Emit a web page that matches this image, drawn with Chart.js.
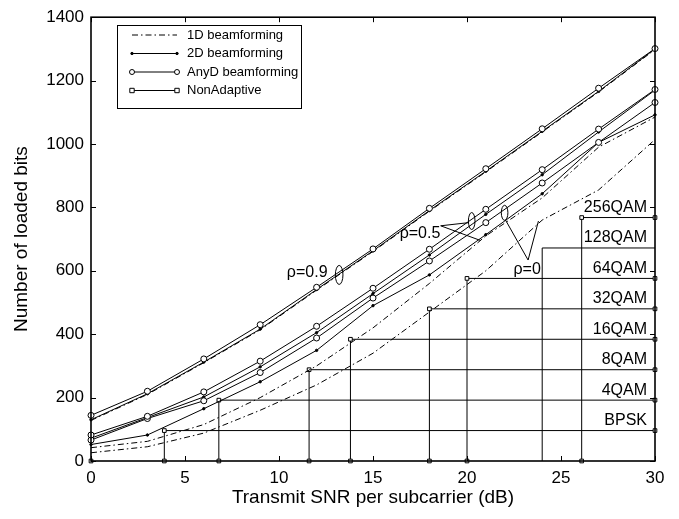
<!DOCTYPE html>
<html lang="en">
<head>
  <meta charset="UTF-8">
  <title>Number of loaded bits vs transmit SNR</title>
  <script src="https://cdn.jsdelivr.net/npm/chart.js"></script>
  <style>
    html, body { margin: 0; padding: 0; background: #fff; }
    .container { width: 679px; height: 519px; }
  </style>
</head>
<body>
  <div class="container">
    <canvas id="bitsChart" width="679" height="519"></canvas>
  </div>

  <script>
    // SNR grid (dB) for the beamforming curves
    const snr = [0, 3, 6, 9, 12, 15, 18, 21, 24, 27, 30];

    // rho = 0.9
    const anyD09 = [144, 220, 322, 430, 548, 669, 797, 922, 1048, 1176, 1301];
    const twoD09 = [130, 212, 312, 416, 541, 663, 790, 914, 1040, 1166, 1300];
    const oneD09 = [128, 210, 310, 414, 539, 661, 788, 912, 1038, 1164, 1298];
    // rho = 0.5
    const anyD05 = [82, 141, 218, 315, 425, 545, 668, 794, 919, 1047, 1172];
    const twoD05 = [72, 137, 202, 297, 405, 528, 650, 778, 903, 1038, 1170];
    const oneD05 = [42, 62, 115, 200, 300, 420, 560, 710, 830, 990, 1085];
    // rho = 0
    const anyD00 = [66, 134, 190, 279, 388, 514, 631, 752, 877, 1005, 1131];
    const twoD00 = [52, 82, 165, 250, 349, 490, 587, 714, 843, 1005, 1092];
    const oneD00 = [26, 45, 88, 160, 240, 340, 470, 600, 760, 855, 1014];

    // NonAdaptive: switching SNR and bits per modulation
    const modNames = ['BPSK', '4QAM', '8QAM', '16QAM', '32QAM', '64QAM', '128QAM', '256QAM'];
    const modBits = [96, 192, 288, 384, 480, 576, 672, 768];
    const modSnr = [3.9, 6.8, 11.6, 13.8, 18, 20, 24, 26.1];

    const xTickStep = 5;
    const yTickStep = 200;

    const FONT = "'Liberation Sans', Arial, Helvetica, sans-serif";
    Chart.defaults.font.family = FONT;
    Chart.defaults.color = '#000';

    const pts = arr => snr.map((x, i) => ({ x: x, y: arr[i] }));

    const styles = {
      oneD: { borderDash: [6, 3, 1.5, 3], pointRadius: 0 },
      twoD: { pointRadius: 1.2, pointBackgroundColor: '#000' },
      anyD: { pointRadius: 3, pointBackgroundColor: '#fff' },
      nonA: { pointStyle: 'rect', pointRadius: 2.6, pointBackgroundColor: '#fff' }
    };

    function line(label, arr, kind) {
      return Object.assign({
        label: label,
        data: pts(arr),
        borderColor: '#000',
        borderWidth: 1,
        pointBorderColor: '#000',
        pointBorderWidth: 1,
        tension: 0,
        fill: false,
        clip: false
      }, styles[kind]);
    }

    const datasets = [
      line('AnyD rho=0.9', anyD09, 'anyD'),
      line('AnyD rho=0.5', anyD05, 'anyD'),
      line('AnyD rho=0', anyD00, 'anyD'),
      line('2D rho=0.9', twoD09, 'twoD'),
      line('2D rho=0.5', twoD05, 'twoD'),
      line('2D rho=0', twoD00, 'twoD'),
      line('1D rho=0.5', oneD05, 'oneD'),
      line('1D rho=0', oneD00, 'oneD'),
      line('1D rho=0.9', oneD09, 'oneD')
    ];

    // staircase for the fixed modulations
    modNames.forEach((name, i) => {
      const ds = {
        label: 'NonAdaptive ' + name,
        data: [
          { x: modSnr[i], y: 0 },
          { x: modSnr[i], y: modBits[i] },
          { x: 30, y: modBits[i] }
        ],
        borderColor: '#000',
        borderWidth: 1,
        pointBorderColor: '#000',
        pointBorderWidth: 1,
        clip: false
      };
      Object.assign(ds, styles.nonA);
      if (name === '128QAM') ds.pointRadius = 0;
      datasets.push(ds);
    });
    datasets.push(Object.assign({
      label: 'NonAdaptive origin',
      data: [{ x: 0, y: 0 }],
      pointBorderColor: '#000',
      borderColor: '#000',
      clip: false
    }, styles.nonA));

    // rho annotations (text position, ellipse, pointer lines), in data units
    const rhoNotes = [
      { text: '\u03C1=0.9', tx: 11.5, ty: 594, ex: 13.2, ey: 587, rx: 3.8, ry: 9.5, from: null, to: [] },
      { text: '\u03C1=0.5', tx: 17.5, ty: 716, ex: 20.25, ey: 757, rx: 3.3, ry: 8.5,
        from: [18.6, 742], to: [[20.1, 752], [20.7, 696]] },
      { text: '\u03C1=0', tx: 23.2, ty: 604, ex: 22.0, ey: 783, rx: 3.3, ry: 7.5,
        from: [23.25, 634], to: [[22.05, 760], [23.8, 757]] }
    ];

    const legendItems = [
      { text: '1D beamforming', kind: 'oneD' },
      { text: '2D beamforming', kind: 'twoD' },
      { text: 'AnyD beamforming', kind: 'anyD' },
      { text: 'NonAdaptive', kind: 'nonA' }
    ];

    const decorations = {
      id: 'decorations',
      afterDraw(chart) {
        const ctx = chart.ctx;
        const area = chart.chartArea;
        const xs = chart.scales.x, ys = chart.scales.y;
        ctx.save();

        // frame
        ctx.strokeStyle = '#000';
        ctx.lineWidth = 1.6;
        ctx.strokeRect(area.left, area.top, area.right - area.left, area.bottom - area.top);

        // inward ticks on all four sides
        ctx.lineWidth = 1;
        ctx.beginPath();
        for (let v = 0; v <= 30; v += xTickStep) {
          const px = Math.round(xs.getPixelForValue(v)) + 0.5;
          ctx.moveTo(px, area.bottom); ctx.lineTo(px, area.bottom - 5);
          ctx.moveTo(px, area.top); ctx.lineTo(px, area.top + 5);
        }
        for (let v = 0; v <= 1400; v += yTickStep) {
          const py = Math.round(ys.getPixelForValue(v)) + 0.5;
          ctx.moveTo(area.left, py); ctx.lineTo(area.left + 5, py);
          ctx.moveTo(area.right, py); ctx.lineTo(area.right - 5, py);
        }
        ctx.stroke();

        // modulation labels
        ctx.fillStyle = '#000';
        ctx.font = '16px ' + FONT;
        ctx.textAlign = 'right';
        ctx.textBaseline = 'middle';
        modNames.forEach((name, i) => {
          ctx.fillText(name, xs.getPixelForValue(30) - 8, ys.getPixelForValue(modBits[i]) - 10);
        });

        // rho annotations
        ctx.textAlign = 'center';
        rhoNotes.forEach(n => {
          ctx.fillText(n.text, xs.getPixelForValue(n.tx), ys.getPixelForValue(n.ty));
          ctx.beginPath();
          ctx.ellipse(xs.getPixelForValue(n.ex), ys.getPixelForValue(n.ey), n.rx, n.ry, 0, 0, Math.PI * 2);
          ctx.stroke();
          if (n.from) {
            ctx.beginPath();
            n.to.forEach(t => {
              ctx.moveTo(xs.getPixelForValue(n.from[0]), ys.getPixelForValue(n.from[1]));
              ctx.lineTo(xs.getPixelForValue(t[0]), ys.getPixelForValue(t[1]));
            });
            ctx.stroke();
          }
        });

        // legend box
        const lx = 117, ly = 25, lw = 184, lh = 83;
        ctx.fillStyle = '#fff';
        ctx.fillRect(lx, ly, lw, lh);
        ctx.lineWidth = 1;
        ctx.strokeRect(lx + 0.5, ly + 0.5, lw, lh);
        ctx.font = '13px ' + FONT;
        ctx.textAlign = 'left';
        ctx.fillStyle = '#000';
        legendItems.forEach((item, i) => {
          const y = ly + 10 + i * 18.5;
          const st = styles[item.kind];
          ctx.beginPath();
          ctx.setLineDash(st.borderDash || []);
          ctx.moveTo(132, y); ctx.lineTo(177, y);
          ctx.stroke();
          ctx.setLineDash([]);
          [132, 177].forEach(px => {
            if (st.pointRadius > 0) {
              ctx.beginPath();
              if (st.pointStyle === 'rect') {
                ctx.rect(px - 2.2, y - 2.2, 4.4, 4.4);
              } else {
                ctx.arc(px, y, Math.min(st.pointRadius, 2.5), 0, Math.PI * 2);
              }
              ctx.fillStyle = st.pointBackgroundColor;
              ctx.fill();
              ctx.stroke();
            }
          });
          ctx.fillStyle = '#000';
          ctx.fillText(item.text, 187, y);
        });

        ctx.restore();
      }
    };

    new Chart(document.getElementById('bitsChart'), {
      type: 'line',
      data: { datasets: datasets },
      options: {
        responsive: false,
        animation: false,
        layout: { padding: { top: 15, right: 24, left: 0, bottom: 0 } },
        plugins: { legend: { display: false }, tooltip: { enabled: false } },
        scales: {
          x: {
            type: 'linear',
            min: 0, max: 30,
            grid: { display: false, drawTicks: false },
            border: { display: false },
            ticks: { stepSize: xTickStep, padding: 7, font: { size: 17 }, maxRotation: 0,
                     callback: v => String(v) },
            title: { display: true, text: 'Transmit SNR per subcarrier (dB)', font: { size: 19 }, padding: { bottom: 10 } },
            afterFit(scale) { scale.height = 58; }
          },
          y: {
            min: 0, max: 1400,
            grid: { display: false, drawTicks: false },
            border: { display: false },
            ticks: { stepSize: yTickStep, padding: 7, font: { size: 17 },
                     callback: v => String(v) },
            title: { display: true, text: 'Number of loaded bits', font: { size: 19 }, padding: { top: 10 } },
            afterFit(scale) { scale.width = 91; }
          }
        }
      },
      plugins: [decorations]
    });
  </script>
</body>
</html>
